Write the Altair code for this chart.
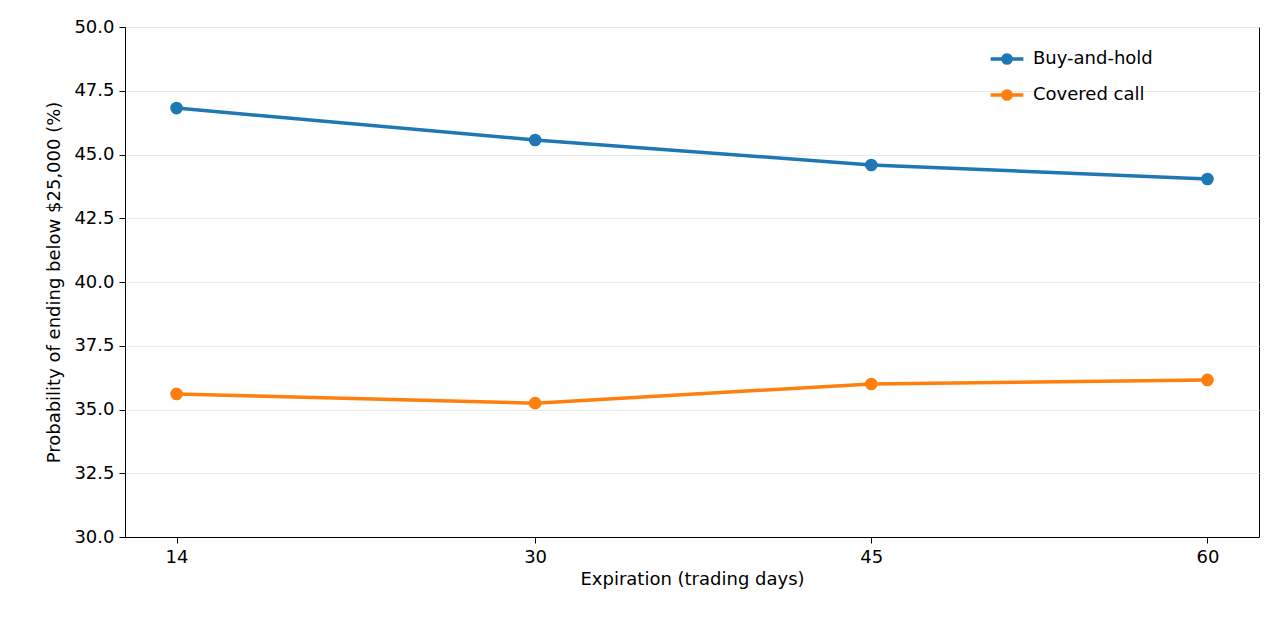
import altair as alt
import pandas as pd

days = [14, 30, 45, 60]
buy_hold = [46.82, 45.57, 44.59, 44.04]
covered_call = [35.61, 35.25, 36.0, 36.16]
series = ["Buy-and-hold", "Covered call"]
colors = ["#1f77b4", "#ff7f0e"]

df = pd.concat([
    pd.DataFrame({"days": days, "prob": buy_hold, "strategy": series[0]}),
    pd.DataFrame({"days": days, "prob": covered_call, "strategy": series[1]}),
])

# line-with-marker legend glyph
glyph = "M-1.6,0H1.6M0.4,0A0.4,0.4 0 1,1 -0.4,0A0.4,0.4 0 1,1 0.4,0Z"

base = alt.Chart(df).encode(
    x=alt.X("days:Q", title="Expiration (trading days)",
            scale=alt.Scale(domain=[11.7, 62.3], nice=False, zero=False),
            axis=alt.Axis(values=days, grid=False, format="d")),
    y=alt.Y("prob:Q", title="Probability of ending below $25,000 (%)",
            scale=alt.Scale(domain=[30, 50], nice=False, zero=False),
            axis=alt.Axis(values=[30 + 2.5 * i for i in range(9)], format=".1f",
                          gridColor="#ebebeb", titlePadding=10)),
    color=alt.Color("strategy:N", scale=alt.Scale(domain=series, range=colors),
                    legend=alt.Legend(title=None, orient="none", legendX=870, legendY=20,
                                      symbolType=glyph, symbolSize=420,
                                      symbolStrokeWidth=3.5, labelFontSize=18,
                                      labelOffset=14, rowPadding=12, symbolOpacity=1)),
)

chart = alt.layer(
    base.mark_line(strokeWidth=3.5),
    base.mark_circle(size=160, opacity=1),
).properties(
    width=1134, height=510,
    autosize=alt.AutoSizeParams(type="none"),
    padding={"left": 117, "top": 19, "right": 11, "bottom": 85},
).configure_axis(
    labelFontSize=18, titleFontSize=18, labelColor="black", titleColor="black",
    domainColor="black", tickColor="black", titleFontWeight="normal",
    labelFont="DejaVu Sans", titleFont="DejaVu Sans", tickSize=6, labelPadding=5,
).configure_legend(labelFont="DejaVu Sans").configure_view(stroke="black", strokeWidth=1)

chart.save("out.html", embed_options={"renderer": "svg", "actions": False})
